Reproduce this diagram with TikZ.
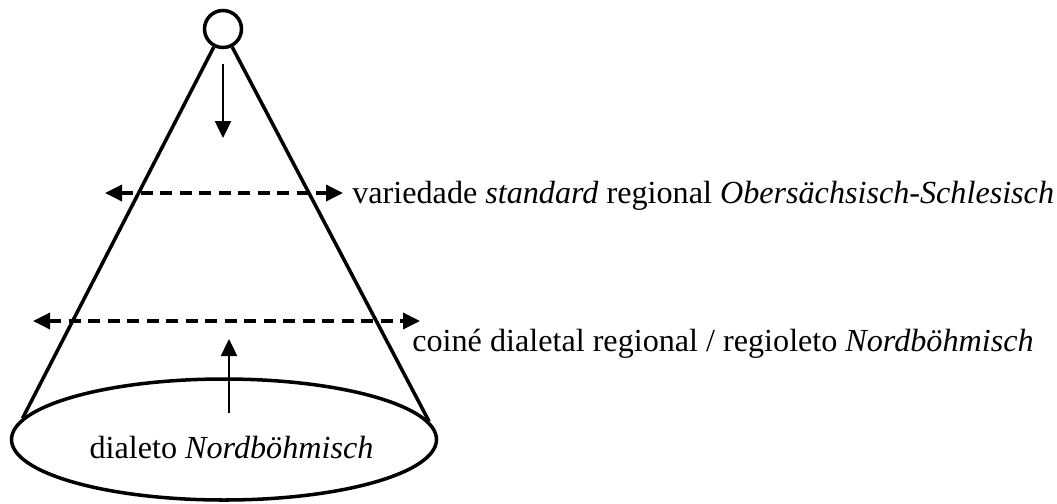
\documentclass[tikz,border=0pt]{standalone}
\usepackage{fontspec}
\setmainfont{Liberation Serif}
\usetikzlibrary{arrows.meta, shapes.geometric}

\begin{document}
\begin{tikzpicture}[>={Triangle[length=0.34cm, width=0.32cm]},
	linha/.style={line width=2pt},
	seta/.style={->, line width=1.4pt},
	tracejada/.style={<->, line width=2pt, dash pattern=on 0.24cm off 0.15cm},
	rotulo/.style={font=\fontsize{18.3}{22}\selectfont, inner sep=0pt}]
			\useasboundingbox (0, 0) rectangle (21.14, 10.06);

			% O topo e a base do cone
			\node[linha, draw, circle, minimum size=0.74cm, inner sep=0pt] (topo) at (4.46, 9.48) {};
			\node[linha, draw, ellipse, minimum width=8.5cm, minimum height=2.42cm, inner sep=0pt] (base) at (4.48, 1.27) {};
			\node[rotulo] (dialeto) at (4.63, 1.12) {dialeto \textit{Nordböhmisch}};

			% Os lados do cone
			\draw[linha] (topo.243) -- (base.174.5);
			\draw[linha] (topo.297) -- (base.5.5);

			% Setas verticais
			\coordinate (desce) at (4.46, 7.30);
			\draw[seta, shorten <=0.3cm] (topo.south) -- (desce);
			\coordinate (sobe1) at (4.58, 1.80);
			\coordinate (sobe2) at (4.58, 3.28);
			\draw[seta] (sobe1) -- (sobe2);

			% Linhas tracejadas com os rótulos
			\coordinate (v1) at (2.10, 6.20);
			\coordinate (v2) at (6.86, 6.20);
			\draw[tracejada] (v1) -- (v2);
			\node[rotulo, anchor=west] (variedade) at (7.04, 6.15) {variedade \textit{standard} regional \textit{Obersächsisch-Schlesisch}};

			\coordinate (c1) at (0.66, 3.64);
			\coordinate (c2) at (8.40, 3.64);
			\draw[tracejada] (c1) -- (c2);
			\node[rotulo, anchor=west] (coine) at (8.24, 3.18) {coiné dialetal regional / regioleto \textit{Nordböhmisch}};
		\end{tikzpicture}
\end{document}
